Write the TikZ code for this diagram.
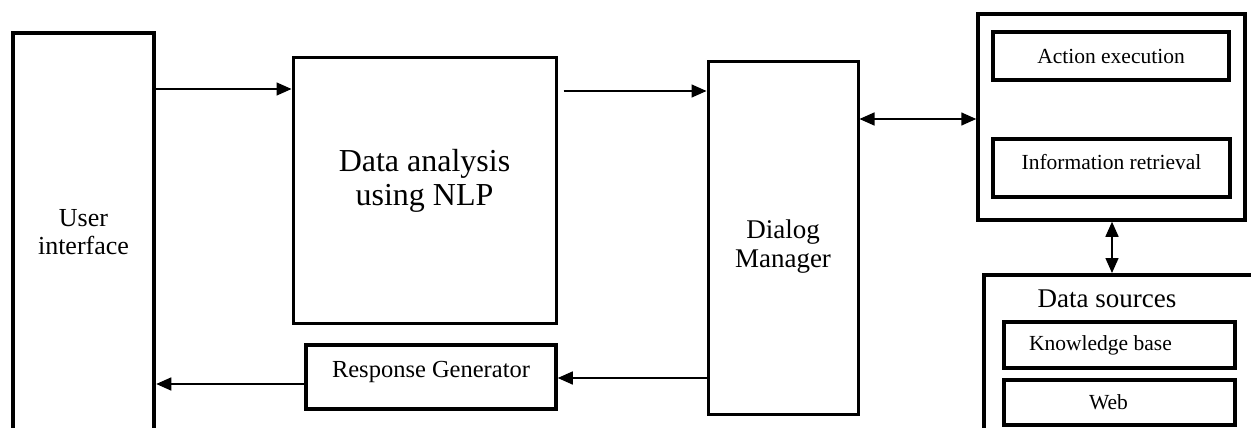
\documentclass[tikz,border=0pt]{standalone}
\usepackage{fontspec}
\setmainfont{Liberation Serif}
\usetikzlibrary{arrows.meta, positioning}

\newcommand{\lowpad}[1]{\rule[-#1]{0pt}{#1}}

\begin{document}
\begin{tikzpicture}[x=1pt, y=-1pt, >={Triangle[length=15pt,width=13pt]},
    blk/.style={draw, line width=#1, rectangle, inner sep=0pt, align=center},
    blk/.default=3pt,
    conn/.style={line width=1.5pt}]
    \def\big{\fontsize{26}{28}\selectfont}
    \def\small{\fontsize{21.5}{24}\selectfont}
    \clip (0,0) rectangle (1251,428);
    % Main chain
    \node[blk=4.5pt, minimum width=141pt, minimum height=398pt, font=\big] (ui) at (83.5,232) {User\\interface};
    \node[blk, minimum width=263pt, minimum height=265pt, font=\fontsize{32}{34}\selectfont] (da) at (424.5,190.5) {Data analysis\\using NLP\lowpad{27pt}};
    \node[blk, minimum width=150pt, minimum height=352pt, font=\fontsize{27}{29}\selectfont] (dm) at (783,238) {\rule{0pt}{36pt}Dialog\\Manager};
    \node[blk=3.5pt, minimum width=250pt, minimum height=64pt, font=\fontsize{24.5}{27}\selectfont] (rg) at (431,377) {Response Generator\lowpad{15pt}};
    % Action block
    \node[blk=3.5pt, minimum width=267pt, minimum height=206pt] (act) at (1111.5,117) {};
    \node[blk=3.5pt, minimum width=236pt, minimum height=48pt, font=\small] (ae) at (1111,56) {Action execution};
    \node[blk=3.5pt, minimum width=237pt, minimum height=58pt, font=\small] (ir) at (1111.5,168) {Information retrieval\lowpad{12pt}};
    % Data sources
    \node[blk=3.5pt, minimum width=300pt, minimum height=200pt, anchor=north west] (ds) at (982,273) {};
    \node[font=\fontsize{27}{29}\selectfont] (dstitle) at (1107,299) {Data sources};
    \node[blk=4.5pt, minimum width=231pt, minimum height=46pt, font=\small] (kb) at (1119.5,345) {Knowledge base\hspace{38pt}};
    \node[blk=4.5pt, minimum width=231pt, minimum height=45pt, font=\small] (web) at (1119.5,402.5) {Web\hspace{22pt}};
    % Connectors
    \draw[conn, ->] (ui.east |- 0,89) -- (da.west |- 0,89);
    \draw[conn, ->, shorten <=6pt] (da.east |- 0,91) -- (dm.west |- 0,91);
    \draw[conn, <->] (dm.east |- 0,119) -- (act.west |- 0,119);
    \draw[conn, <->] (act.south -| 1112,0) -- (ds.north -| 1112,0);
    \draw[conn, ->] (dm.west |- 0,378) -- (rg.east |- 0,378);
    \draw[conn, ->] (rg.west |- 0,384) -- (ui.east |- 0,384);
\end{tikzpicture}
\end{document}
